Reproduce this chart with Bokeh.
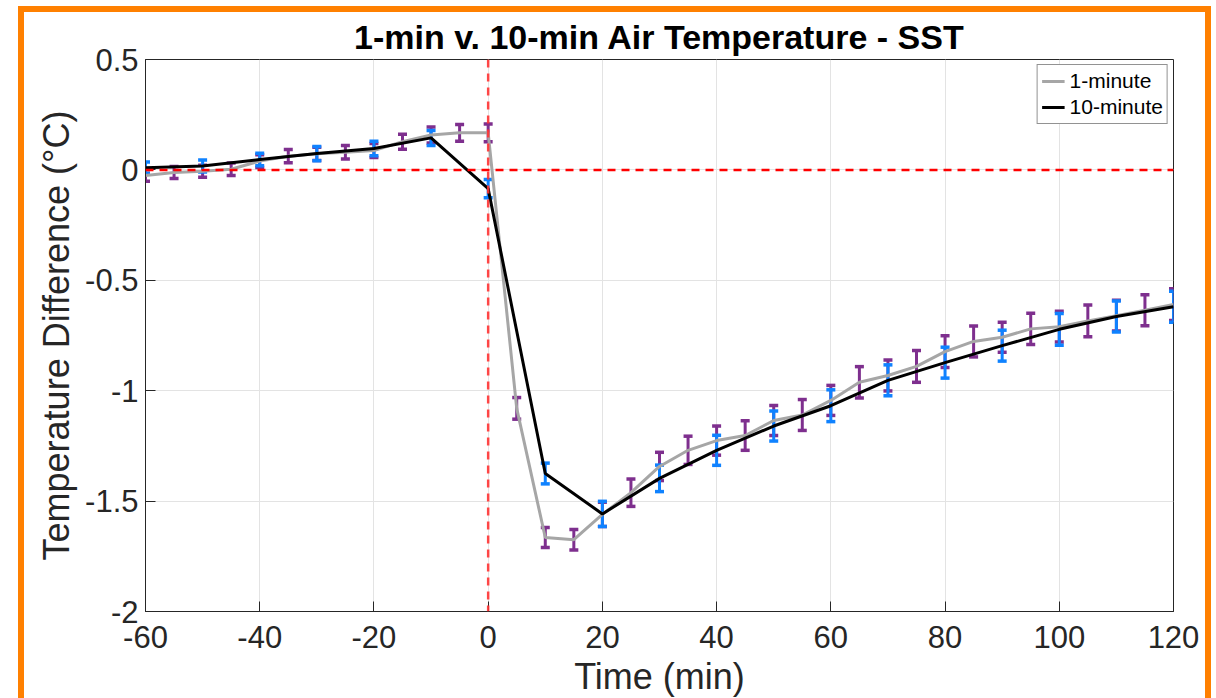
from bokeh.plotting import figure
from bokeh.models import Range1d, FixedTicker, Span, Legend, LegendItem
from bokeh.embed import file_html
from bokeh.resources import INLINE

# ---- data ----
t1 = [-60, -55, -50, -45, -40, -35, -30, -25, -20, -15, -10, -5, 0, 5, 10, 15, 20, 25, 30,
      35, 40, 45, 50, 55, 60, 65, 70, 75, 80, 85, 90, 95, 100, 105, 110, 115, 120]
v1 = [-0.025, -0.012, -0.006, 0.003, 0.040, 0.062, 0.073, 0.080, 0.088, 0.128, 0.158, 0.168,
      0.168, -1.080, -1.665, -1.675, -1.560, -1.462, -1.343, -1.270, -1.226, -1.203, -1.135,
      -1.110, -1.044, -0.962, -0.931, -0.890, -0.823, -0.777, -0.758, -0.720, -0.710, -0.684,
      -0.660, -0.636, -0.610]
e1 = [0.026, 0.027, 0.027, 0.028, 0.029, 0.030, 0.030, 0.031, 0.032, 0.034, 0.036, 0.038,
      0.040, 0.049, 0.045, 0.046, 0.055, 0.062, 0.064, 0.064, 0.066, 0.067, 0.068, 0.070,
      0.068, 0.071, 0.070, 0.072, 0.072, 0.070, 0.068, 0.071, 0.070, 0.072, 0.070, 0.070, 0.072]

t10 = [-60, -50, -40, -30, -20, -10, 0, 10, 20, 30, 40, 50, 60, 70, 80, 90, 100, 110, 120]
v10 = [0.010, 0.018, 0.047, 0.074, 0.097, 0.145, -0.085, -1.375, -1.558, -1.397, -1.270,
       -1.160, -1.068, -0.953, -0.873, -0.796, -0.722, -0.664, -0.620]
e10 = [0.026, 0.027, 0.028, 0.032, 0.033, 0.034, 0.041, 0.047, 0.057, 0.060, 0.068, 0.068,
       0.072, 0.070, 0.070, 0.070, 0.072, 0.070, 0.070]

x_ticks = [-60, -40, -20, 0, 20, 40, 60, 80, 100, 120]
x_labels = ["-60", "-40", "-20", "0", "20", "40", "60", "80", "100", "120"]
y_ticks = [-2, -1.5, -1, -0.5, 0, 0.5]
y_labels = ["-2", "-1.5", "-1", "-0.5", "0", "0.5"]

FONT = "Liberation Sans"
AX = "#262626"
PURPLE = "#7E2F8E"
BLUE = "#0F82FF"
GRAY = "#A6A6A6"

p = figure(frame_width=1028, frame_height=552, output_backend="svg", toolbar_location=None,
           x_range=Range1d(-60, 120), y_range=Range1d(-2, 0.5),
           min_border_left=121, min_border_right=32, min_border_top=47, min_border_bottom=87,
           title="1-min v. 10-min Air Temperature - SST")
p.styles = {"border-top": "6px solid #FF8000", "border-left": "6px solid #FF8000",
            "border-right": "6px solid #FF8000", "margin-left": "18px", "margin-top": "6px"}
p.title.align = "center"
p.title.text_font = FONT
p.title.text_font_size = "34px"
p.title.text_font_style = "bold"
p.title.text_color = "#000000"
p.title.standoff = 7

p.outline_line_color = AX
p.outline_line_width = 1
p.background_fill_color = "white"
p.border_fill_color = "white"

p.xaxis.ticker = FixedTicker(ticks=x_ticks)
p.xaxis.major_label_overrides = dict(zip(x_ticks, x_labels))
p.yaxis.ticker = FixedTicker(ticks=y_ticks)
p.yaxis.major_label_overrides = dict(zip(y_ticks, y_labels))
for ax in list(p.xaxis) + list(p.yaxis):
    ax.major_tick_in = 10
    ax.major_tick_out = 0
    ax.minor_tick_in = 0
    ax.minor_tick_out = 0
    ax.axis_line_color = AX
    ax.major_tick_line_color = AX
    ax.major_label_text_font = FONT
    ax.major_label_text_font_size = "31px"
    ax.major_label_text_color = AX
    ax.axis_label_text_font = FONT
    ax.axis_label_text_font_style = "normal"
    ax.axis_label_text_font_size = "36px"
    ax.axis_label_text_color = AX
p.xaxis.axis_label = "Time (min)"
p.yaxis.axis_label = "Temperature Difference (°C)"
p.xaxis.major_label_standoff = 14
p.yaxis.major_label_standoff = 7
p.xaxis.axis_label_standoff = 5
p.yaxis.axis_label_standoff = 5

p.xgrid.grid_line_color = "#E3E3E3"
p.ygrid.grid_line_color = "#E3E3E3"
p.xgrid.ticker = FixedTicker(ticks=x_ticks)
p.ygrid.ticker = FixedTicker(ticks=y_ticks)

# error bars
lo1 = [v - e for v, e in zip(v1, e1)]
hi1 = [v + e for v, e in zip(v1, e1)]
lo10 = [v - e for v, e in zip(v10, e10)]
hi10 = [v + e for v, e in zip(v10, e10)]

p.segment(x0=t1, y0=lo1, x1=t1, y1=hi1, line_color=PURPLE, line_width=3)
p.scatter(x=t1 + t1, y=lo1 + hi1, marker="dash", size=9, line_width=3.5, line_color=PURPLE)
p.segment(x0=t10, y0=lo10, x1=t10, y1=hi10, line_color=BLUE, line_width=3)
p.scatter(x=t10 + t10, y=lo10 + hi10, marker="dash", size=9, line_width=3.5, line_color=BLUE)

r1 = p.line(t1, v1, line_color=GRAY, line_width=3)
r10 = p.line(t10, v10, line_color="black", line_width=3)

p.add_layout(Span(location=0, dimension="width", line_color="#FF0000", line_width=2.5,
                  line_dash="8 6"))
p.add_layout(Span(location=0, dimension="height", line_color="#FF3333", line_width=2.5,
                  line_dash="8 6", line_alpha=0.9))

legend = Legend(items=[LegendItem(label="1-minute", renderers=[r1]),
                       LegendItem(label="10-minute", renderers=[r10])],
                location="top_right", margin=5, padding=4, spacing=2,
                label_text_font=FONT, label_text_font_size="21px", label_text_color="#000000",
                glyph_width=23, glyph_height=22, label_height=24, label_standoff=5,
                border_line_color=AX, border_line_width=1, background_fill_alpha=1)
p.add_layout(legend, "center")

open("out.html", "w").write(file_html(p, INLINE))
